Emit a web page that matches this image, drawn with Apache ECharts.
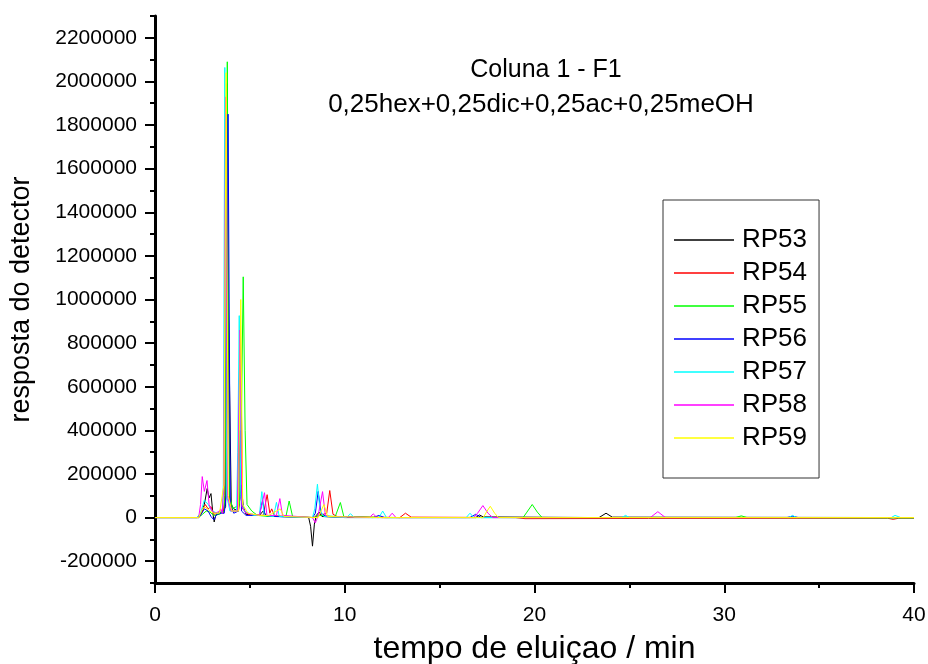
<!DOCTYPE html>
<html>
<head>
<meta charset="utf-8">
<script src="https://cdn.jsdelivr.net/npm/echarts@6/dist/echarts.min.js"></script>
<style>html,body{margin:0;padding:0;background:#fff}#c{width:928px;height:664px}</style>
</head>
<body>
<div id="c"></div>
<script>
const seriesNames = ['RP53','RP54','RP55','RP56','RP57','RP58','RP59'];
const seriesColors = ['#000000','#ff0000','#00ff00','#0000ff','#00ffff','#ff00ff','#ffff00'];
const yMajorTicks = [-200000,0,200000,400000,600000,800000,1000000,1200000,1400000,1600000,1800000,2000000,2200000];
const xMajorTicks = [0,10,20,30,40];

const rp53 = [[0,0],[2.3,0],[2.45,20000],[2.6,60000],[2.75,133000],[2.85,90000],[2.95,110000],[3.05,20000],[3.12,-20000],[3.2,10000],[3.4,20000],[3.6,30000],[3.72,50000],[3.87,955000],[4.02,60000],[4.15,40000],[4.4,30000],[4.55,150000],[4.65,50000],[4.8,15000],[5.5,10000],[5.7,30000],[5.9,5000],[6.5,5000],[8.1,0],[8.2,-40000],[8.3,-131000],[8.4,-30000],[8.5,10000],[8.65,25000],[8.8,5000],[10,0],[16.9,0],[17.1,12000],[17.3,3000],[23.4,0],[23.77,20000],[24.1,2000],[40,0]];
const rp54 = [[0,0],[2.3,0],[2.5,30000],[2.65,60000],[2.8,40000],[2.95,50000],[3.1,15000],[3.3,20000],[3.45,30000],[3.6,20000],[3.68,100000],[3.8,1990000],[3.93,80000],[4.1,30000],[4.35,30000],[4.5,880000],[4.62,40000],[4.9,15000],[5.7,10000],[5.91,105000],[6.05,20000],[6.15,40000],[6.3,8000],[8.3,0],[8.5,5000],[8.7,10000],[9.05,20000],[9.21,124000],[9.38,15000],[9.6,5000],[12.9,0],[13.2,20000],[13.5,2000],[19,0],[19.5,-5000],[26,-4000],[38.6,-3000],[38.9,-8000],[39.2,-3000],[40,-3000]];
const rp55 = [[0,0],[2.3,0],[2.5,15000],[2.7,30000],[2.9,25000],[3.1,10000],[3.4,15000],[3.65,30000],[3.71,150000],[3.81,2090000],[3.93,100000],[4.1,40000],[4.45,60000],[4.56,500000],[4.65,1104000],[4.75,400000],[4.85,60000],[5.1,30000],[5.4,10000],[6.0,5000],[6.9,5000],[7.07,76000],[7.25,5000],[8.4,0],[8.6,10000],[9.5,5000],[9.77,69000],[9.95,5000],[12,0],[19.4,0],[19.6,25000],[19.88,60000],[20.15,25000],[20.4,0],[30.6,0],[30.9,8000],[31.2,0],[40,-2000]];
const rp56 = [[0,0],[2.2,0],[2.4,10000],[2.6,40000],[2.8,30000],[2.95,5000],[3.1,-10000],[3.25,15000],[3.5,20000],[3.65,20000],[3.75,100000],[3.85,1850000],[3.97,60000],[4.15,20000],[4.4,30000],[4.47,400000],[4.56,30000],[4.8,10000],[5.5,10000],[5.67,80000],[5.8,10000],[6.3,5000],[8.3,0],[8.45,20000],[8.6,120000],[8.75,20000],[9,5000],[11.5,0],[11.8,10000],[12.1,0],[16.6,0],[16.9,15000],[17.2,0],[33.3,0],[33.6,6000],[33.9,0],[40,0]];
const rp57 = [[0,0],[2.2,0],[2.4,20000],[2.6,80000],[2.8,60000],[3.0,30000],[3.3,20000],[3.55,30000],[3.6,150000],[3.68,2064000],[3.78,100000],[3.95,30000],[4.3,30000],[4.36,300000],[4.44,926000],[4.52,100000],[4.7,30000],[5.2,10000],[5.5,10000],[5.63,119000],[5.75,10000],[6.25,5000],[6.4,70000],[6.55,5000],[8.3,0],[8.42,40000],[8.56,153000],[8.7,30000],[8.9,5000],[10.1,0],[10.3,18000],[10.5,0],[11.8,0],[12.0,30000],[12.2,0],[16.4,0],[16.6,20000],[16.8,0],[24.6,0],[24.8,10000],[25,0],[33.4,0],[33.6,10000],[33.8,0],[38.8,0],[39.0,10000],[39.3,0],[40,0]];
const rp58 = [[0,0],[2.3,0],[2.4,60000],[2.49,188000],[2.6,120000],[2.74,170000],[2.85,60000],[3.0,30000],[3.2,20000],[3.4,30000],[3.47,40000],[3.55,20000],[3.62,150000],[3.72,1929000],[3.82,100000],[4.0,30000],[4.35,30000],[4.48,860000],[4.58,50000],[4.8,20000],[5.5,10000],[5.77,114000],[5.9,10000],[6.4,10000],[6.58,87000],[6.72,10000],[8.3,0],[8.45,-25000],[8.6,10000],[8.83,119000],[8.98,10000],[9.2,5000],[11.3,0],[11.5,17000],[11.7,0],[12.3,0],[12.5,20000],[12.7,0],[16.8,0],[17.0,20000],[17.28,55000],[17.55,20000],[17.8,0],[26.1,0],[26.5,27000],[26.9,0],[40,0]];
const rp59 = [[0,0],[2.3,0],[2.45,30000],[2.6,50000],[2.75,40000],[2.9,30000],[3.1,20000],[3.4,20000],[3.63,150000],[3.75,2040000],[3.86,100000],[4.05,30000],[4.4,30000],[4.52,1000000],[4.62,60000],[4.9,20000],[5.5,10000],[6.0,10000],[6.6,40000],[6.8,5000],[8.6,0],[8.9,60000],[9.1,5000],[12,0],[17.3,0],[17.5,30000],[17.67,52000],[17.9,20000],[18.1,0],[40,0]];
const seriesData = [rp53, rp54, rp55, rp56, rp57, rp58, rp59];

const FONT = 'Liberation Sans, Arial, Helvetica, sans-serif';
const chart = echarts.init(document.getElementById('c'), null, {renderer: 'canvas'});
const mainLine = {show: true, onZero: false, lineStyle: {color: '#000', width: 3}};
const plain = v => String(v);
chart.setOption({
  animation: false,
  backgroundColor: '#fff',
  grid: {left: 155, right: 14, top: 16, bottom: 81, containLabel: false, outerBoundsMode: 'none'},
  xAxis: [
    {
      type: 'value', min: 0, max: 40, interval: 5, position: 'bottom',
      axisLine: mainLine, splitLine: {show: false},
      name: 'tempo de eluiçao / min', nameLocation: 'middle', nameGap: 50,
      nameTextStyle: {fontFamily: FONT, fontSize: 32, color: '#000'},
      axisTick: {show: true, inside: false, length: 10, lineStyle: {color: '#000', width: 2}, customValues: xMajorTicks},
      axisLabel: {show: true, margin: 22, fontFamily: FONT, fontSize: 21, color: '#000', customValues: xMajorTicks, formatter: plain}
    },
    {
      type: 'value', min: 0, max: 40, interval: 5, position: 'bottom',
      axisLine: {show: false, onZero: false}, splitLine: {show: false},
      axisTick: {show: true, inside: false, length: 5, lineStyle: {color: '#000', width: 2}},
      axisLabel: {show: false}
    }
  ],
  yAxis: [
    {
      type: 'value', min: -300000, max: 2300000, interval: 100000, position: 'left',
      axisLine: mainLine, splitLine: {show: false},
      name: 'resposta do detector', nameLocation: 'middle', nameGap: 120, nameRotate: 90,
      nameTextStyle: {fontFamily: FONT, fontSize: 27, color: '#000'},
      axisTick: {show: true, inside: false, length: 10, lineStyle: {color: '#000', width: 2}, customValues: yMajorTicks},
      axisLabel: {show: true, margin: 18, fontFamily: FONT, fontSize: 21, color: '#000', customValues: yMajorTicks, formatter: plain}
    },
    {
      type: 'value', min: -300000, max: 2300000, interval: 100000, position: 'left',
      axisLine: {show: false, onZero: false}, splitLine: {show: false},
      axisTick: {show: true, inside: false, length: 5, lineStyle: {color: '#000', width: 2}},
      axisLabel: {show: false}
    }
  ],
  legend: {
    orient: 'vertical', left: 663, top: 200,
    padding: [27, 12, 27, 11],
    icon: 'rect',
    itemWidth: 60, itemHeight: 1.5, itemGap: 7,
    borderColor: '#333', borderWidth: 1, backgroundColor: '#fff',
    textStyle: {fontFamily: FONT, fontSize: 26, lineHeight: 26, color: '#000', padding: [0, 0, 0, 3]},
    data: seriesNames
  },
  graphic: [
    {type: 'text', x: 546, y: 70, style: {text: 'Coluna 1 - F1', fontFamily: FONT, fontSize: 25, fill: '#000', textAlign: 'center', textVerticalAlign: 'middle'}},
    {type: 'text', x: 541, y: 105, style: {text: '0,25hex+0,25dic+0,25ac+0,25meOH', fontFamily: FONT, fontSize: 26, fill: '#000', textAlign: 'center', textVerticalAlign: 'middle'}}
  ],
  series: seriesNames.map((n, i) => ({
    name: n, type: 'line', xAxisIndex: 0, yAxisIndex: 0,
    data: seriesData[i], symbol: 'none', showSymbol: false,
    lineStyle: {color: seriesColors[i], width: 1},
    itemStyle: {color: seriesColors[i]},
    emphasis: {disabled: true}
  }))
});
</script>
</body>
</html>
